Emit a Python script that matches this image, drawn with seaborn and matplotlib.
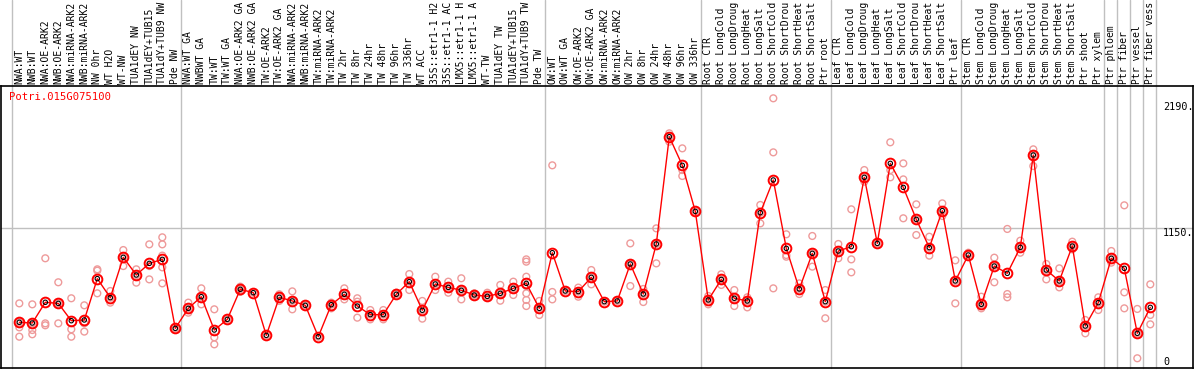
import pandas as pd
import seaborn as sns
import matplotlib.pyplot as plt
import matplotlib.transforms as mtransforms

# gene shown in the panel
gene = "Potri.015G075100"

# sample names, left to right (as far as they show in the header strip)
labels = [
    "NWA:WT", "NWB:WT", "NWA:OE-ARK2", "NWB:OE-ARK2", "NWA:miRNA-ARK2", "NWB:miRNA-ARK2",
    "NW 0hr", "WT H2O", "WT-NW", "TUA1dEY NW", "TUA1dEY+TUB15", "TUA1dY+TUB9 NW", "Pde NW",
    "NWA:WT GA", "NWBWT GA", "TW:WT", "TW:WT GA", "NWA:OE-ARK2 GA", "NWB:OE-ARK2 GA",
    "TW:OE-ARK2", "TW:OE-ARK2 GA", "NWA:miRNA-ARK2", "NWB:miRNA-ARK2", "TW:miRNA-ARK2",
    "TW:miRNA-ARK2", "TW 2hr", "TW 8hr", "TW 24hr", "TW 48hr", "TW 96hr", "TW 336hr",
    "WT ACC", "35S::etr1-1 H2", "35S::etr1-1 AC", "LMX5::etr1-1 H", "LMX5::etr1-1 A",
    "WT-TW", "TUA1dEY TW", "TUA1dEY+TUB15", "TUA1dY+TUB9 TW", "Pde TW",
    "OW:WT", "OW:WT GA", "OW:OE-ARK2", "OW:OE-ARK2 GA", "OW:miRNA-ARK2", "OW:miRNA-ARK2",
    "OW 2hr", "OW 8hr", "OW 24hr", "OW 48hr", "OW 96hr", "OW 336hr",
    "Root CTR", "Root LongCold", "Root LongDroug", "Root LongHeat", "Root LongSalt",
    "Root ShortCold", "Root ShortDrou", "Root ShortHeat", "Root ShortSalt", "Ptr root",
    "Leaf CTR", "Leaf LongCold", "Leaf LongDroug", "Leaf LongHeat", "Leaf LongSalt",
    "Leaf ShortCold", "Leaf ShortDrou", "Leaf ShortHeat", "Leaf ShortSalt", "Ptr leaf",
    "Stem CTR", "Stem LongCold", "Stem LongDroug", "Stem LongHeat", "Stem LongSalt",
    "Stem ShortCold", "Stem ShortDrou", "Stem ShortHeat", "Stem ShortSalt",
    "Ptr shoot", "Ptr xylem", "Ptr phloem", "Ptr fiber", "Ptr vessel", "Ptr fiber vess",
]

# mean expression per sample
means = [
    369, 363, 534, 525, 382, 388, 729, 572, 905, 759, 855, 888, 319,
    484, 580, 305, 393, 641, 613, 261, 575, 545, 509, 250, 514, 600, 503, 432, 432,
    600, 704, 468, 685, 657, 633, 594, 583, 608, 649, 690, 484,
    943, 627, 622, 740, 539, 545, 850, 602, 1015, 1900, 1664, 1284,
    553, 723, 567, 545, 1273, 1543, 979, 644, 938, 539,
    957, 993, 1565, 1020, 1680, 1482, 1218, 985, 1290, 710,
    924, 517, 833, 773, 987, 1749, 800, 710, 998, 338, 531,
    897, 814, 278, 492,
]

# single replicates per sample
reps = [
    [525, 369, 327, 250], [517, 363, 305, 270], [897, 360, 344], [699, 525, 360],
    [567, 311, 250], [509, 360, 292], [806, 795, 608], [627, 572, 531], [965, 905, 833],
    [806, 759, 696], [1012, 833, 723], [1070, 1012, 919, 822, 690], [319, 319],
    [531, 484, 448], [649, 580, 517], [476, 245, 187], [393], [663, 641, 620], [613], [261],
    [600, 575, 545], [624, 545, 476], [509], [250], [531, 514, 484], [649, 600, 558],
    [567, 539, 407], [470, 432, 393], [470, 432, 393], [613, 600], [767, 704, 635],
    [545, 468, 399], [745, 685, 635], [704, 657, 613], [732, 633, 558], [608, 594, 580],
    [613, 583, 580], [677, 608, 547], [704, 649, 594], [888, 869, 745, 668, 608, 553, 503],
    [545, 484, 429],
    [1664, 619, 558], [627], [655, 622, 580], [800, 740, 682], [539], [545],
    [1020, 850, 668], [644, 602, 536], [1144, 1015, 855], [1928, 1900, 1859],
    [1804, 1625, 1576], [1284],
    [586, 553, 517], [765, 723, 677], [635, 567, 503], [575, 545, 492], [1337, 1273, 1185],
    [2217, 1771, 649], [1095, 924, 910], [690, 644, 602], [1081, 938, 828], [635, 539, 402],
    [1015, 957, 897], [1301, 888, 781], [1625, 1565, 1529], [1020], [1854, 1625, 1565],
    [1680, 1548, 1227], [1342, 1218, 1089], [1075, 985, 919], [1350, 1290, 1246],
    [880, 710, 525],
    [943, 924], [580, 517, 484], [902, 833, 699], [1139, 602, 575], [1042, 987, 943],
    [1796, 1749, 1658], [850, 800, 723], [814, 710, 657], [1034, 998, 971], [388, 338, 278],
    [575, 531, 470], [957, 897, 861], [1334, 616, 484], [479, 278, 72], [682, 429, 352],
]

# last sample of each block (gray separators)
group_ends = [12, 40, 52, 62, 72, 83, 84, 85, 86, 87]

ytick_vals = [0, 1150, 2190]
ytick_text = ["0", "1150.", "2190."]

df_mean = pd.DataFrame({"pos": range(len(labels)), "label": labels, "expr": means})
df_rep = pd.DataFrame([(i, v) for i, vals in enumerate(reps) for v in vals],
                      columns=["pos", "expr"])

sns.set_style("white")
plt.rcParams["font.family"] = ["DejaVu Sans Mono"]

W, H = 1194, 370
fig = plt.figure(figsize=(W / 100, H / 100), dpi=100)
ax = fig.add_axes([1 / W, 1 - 368 / H, 1192 / W, 282 / H])

# separators and reference line
sep_top = 368 / 282
ax.axvline(-0.6, ymin=0, ymax=sep_top, color="#c0c0c0", lw=1, clip_on=False)
for g in group_ends:
    ax.axvline(g + 0.42, ymin=0, ymax=sep_top, color="#c0c0c0", lw=1, clip_on=False)
ax.axhline(1150, color="#c0c0c0", lw=1)

# replicates
sns.scatterplot(data=df_rep, x="pos", y="expr", ax=ax, marker="o", s=24,
                facecolor="none", edgecolor="#ee9a9a", linewidth=1, zorder=3)

# means
sns.lineplot(data=df_mean, x="pos", y="expr", ax=ax, color="red", lw=1,
             marker="o", markersize=7, markerfacecolor="none",
             markeredgecolor="red", markeredgewidth=1.4, zorder=4)
sns.scatterplot(data=df_mean, x="pos", y="expr", ax=ax, marker="o", s=10,
                facecolor="none", edgecolor="black", linewidth=0.8, zorder=5)

ax.set_xlim((1 - 19.3) / 13, (1193 - 19.3) / 13)
ax.set_ylim((367 - 368) / 0.1212, (367 - 86) / 0.1212)
ax.set_xticks([])
ax.set_yticks([])
ax.set_xlabel("")
ax.set_ylabel("")
for s in ax.spines.values():
    s.set_color("black")
    s.set_linewidth(1.2)

# sample names above the frame
trans_x = ax.get_xaxis_transform()
for i, lab in enumerate(labels):
    ax.text(i, 1 + 2 / 282, lab, transform=trans_x, rotation=90, ha="center",
            va="bottom", fontsize=7.0, color="black", clip_on=False)

# value labels on the right
trans_y = mtransforms.blended_transform_factory(ax.transAxes, ax.transData)
for v, t in zip(ytick_vals, ytick_text):
    ax.text((1163 - 1) / 1192, v, t, transform=trans_y, ha="left",
            va="bottom" if v == 0 else "top", fontsize=7.3, color="black")

ax.text(8 / 1192, (368 - 97) / 282, gene, transform=ax.transAxes, color="red",
        fontsize=7.6, ha="left", va="center")

fig.savefig("out.png", dpi=100)
